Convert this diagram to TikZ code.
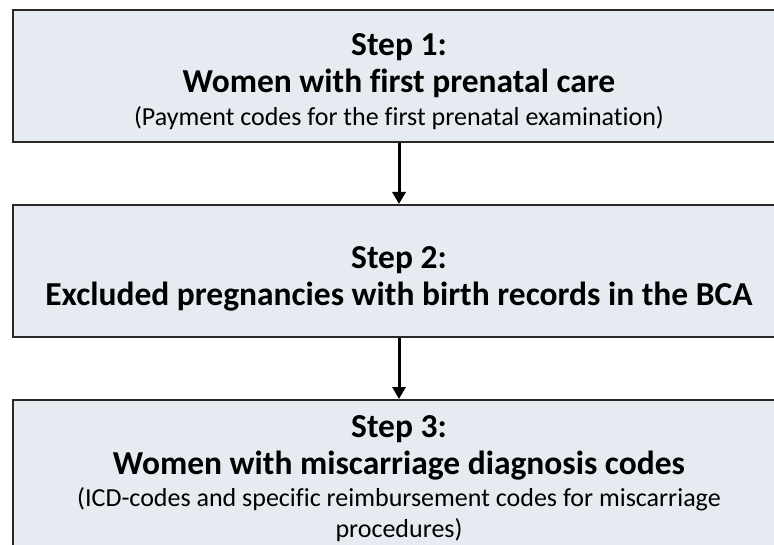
\documentclass[tikz,border=0pt]{standalone}
\usepackage{fontspec}
\setmainfont{Carlito}[Ligatures=NoCommon]
\usepackage{xcolor}
\usetikzlibrary{arrows.meta}
\definecolor{stepfill}{RGB}{229,235,240}
\definecolor{stepline}{RGB}{40,40,40}

\begin{document}
\begin{tikzpicture}[x=1pt,y=-1pt,
  stepbox/.style={fill=stepfill,draw=stepline,line width=2pt,minimum width=772pt,inner sep=0pt},
  big/.style={anchor=base,font=\fontsize{33.5}{40}\selectfont\bfseries},
  small/.style={anchor=base,font=\fontsize{26}{31}\selectfont},
  flow/.style={line width=3pt,-{Triangle[width=13pt,length=12pt]}}]
			\useasboundingbox (0,0) rectangle (774,545);
			\clip (0,0) rectangle (774,545);
			\coordinate (s1) at (399,76);
			\coordinate (s2) at (399,271);
			\coordinate (s3) at (399,479);

			\node (step1) at (s1) [stepbox,minimum height=132pt] {};
			\node (step2) at (s2) [stepbox,minimum height=132pt] {};
			\node (step3) at (s3) [stepbox,minimum height=158pt] {};

			\node (t1) at (399,56) [big]{Step 1:};
			\node (h1) at (399,93) [big]{Women with first prenatal care};
			\node (n1) at (399,126) [small]{(Payment codes for the first prenatal examination)};
			\node (t2) at (399,269) [big]{Step 2:};
			\node (h2) at (399,306) [big]{Excluded pregnancies with birth records in the BCA};
			\node (t3) at (399,437) [big]{Step 3:};
			\node (h3) at (399,474) [big]{Women with miscarriage diagnosis codes};
			\node (n3) at (399,506) [small]{(ICD-codes and specific reimbursement codes for miscarriage};
			\node (m3) at (399,537) [small]{procedures)};

			\draw[flow] (step1.south) -- (step2.north);
			\draw[flow] (step2.south) -- (step3.north);
		\end{tikzpicture}
\end{document}
